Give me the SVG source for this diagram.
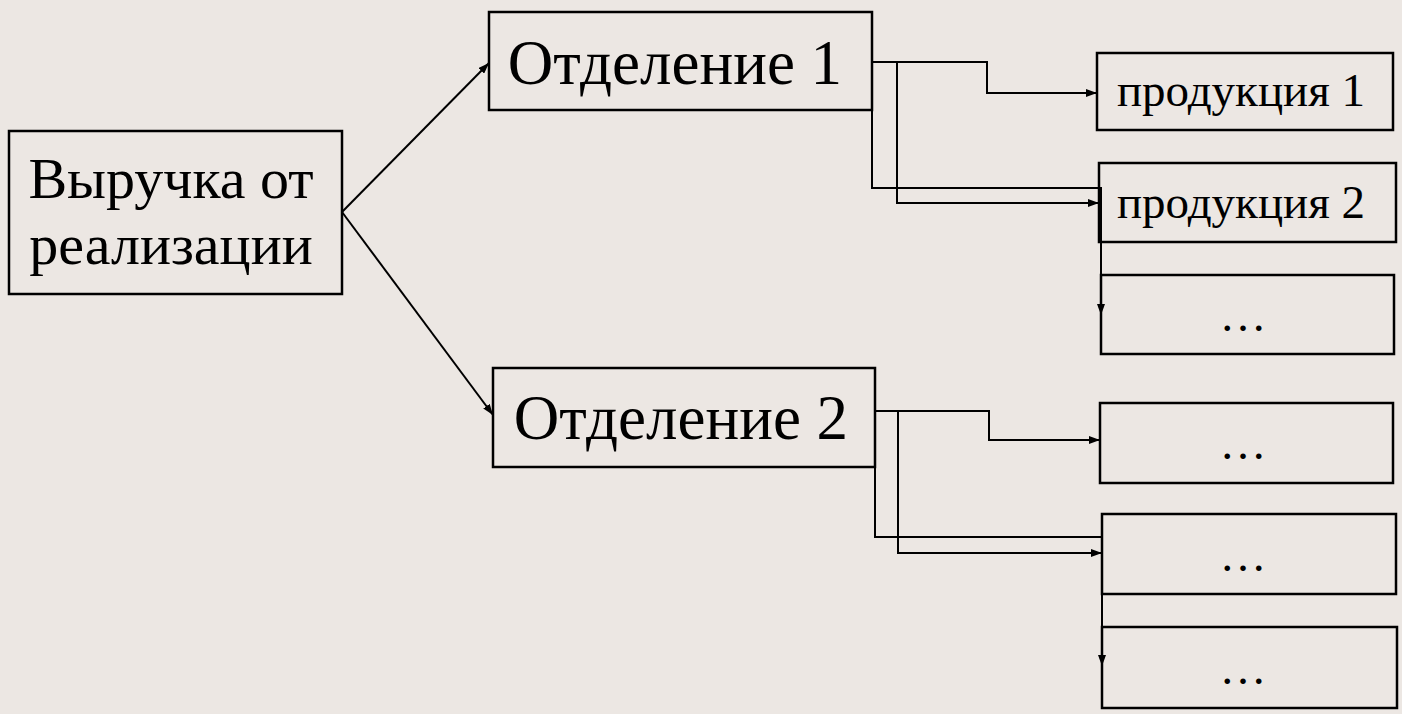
<svg xmlns="http://www.w3.org/2000/svg" width="1402" height="714" viewBox="0 0 1402 714">
<defs>
<marker id="ah" markerWidth="11" markerHeight="8" refX="11" refY="4" orient="auto" markerUnits="userSpaceOnUse">
<path d="M0,0 L11,4 L0,8 Z" fill="#000"/>
</marker>
<style>
.box{fill:none;stroke:#000;stroke-width:2.5}
.big{font-family:"Liberation Serif","Times New Roman",serif;font-size:63px;fill:#000;text-anchor:middle}
.rev{font-size:58px}
.sm{font-family:"Liberation Serif","Times New Roman",serif;font-size:47px;fill:#000;text-anchor:middle}
.c{fill:none;stroke:#000;stroke-width:2}
</style>
</defs>
<rect width="1402" height="714" fill="#ECE7E3"/>
<g id="connectors">
<path class="c" d="M342,212 L489,63" marker-end="url(#ah)"/>
<path class="c" d="M342,212 L493,415" marker-end="url(#ah)"/>
<path class="c" d="M872,62 H987 V93 H1097" marker-end="url(#ah)"/>
<path class="c" d="M872,62 V188 H1101 V315" marker-end="url(#ah)"/>
<path class="c" d="M872,62 H897 V203 H1099" marker-end="url(#ah)"/>
<path class="c" d="M875,411 H989 V440 H1100" marker-end="url(#ah)"/>
<path class="c" d="M875,411 V537 H1102 V666" marker-end="url(#ah)"/>
<path class="c" d="M875,411 H898 V553 H1102" marker-end="url(#ah)"/>
</g>
<g id="revenue">
<rect class="box" x="9" y="131" width="333" height="163"/>
<text class="big rev" x="171" y="198">Выручка от</text>
<text class="big rev" x="171" y="264">реализации</text>
</g>
<g id="div1">
<rect class="box" x="489" y="12" width="383" height="98"/>
<text class="big" x="675" y="84">Отделение 1</text>
</g>
<g id="div2">
<rect class="box" x="493" y="368" width="382" height="99"/>
<text class="big" x="681" y="439">Отделение 2</text>
</g>
<g id="prod1">
<rect class="box" x="1097" y="53" width="296" height="77"/>
<text class="sm" x="1241" y="106">продукция 1</text>
</g>
<g id="prod2">
<rect class="box" x="1099" y="163" width="297" height="79"/>
<text class="sm" x="1241" y="218">продукция 2</text>
</g>
<g id="etc1">
<rect class="box" x="1101" y="275" width="293" height="79"/>
<text class="sm" x="1243" y="331">…</text>
</g>
<g id="etc2">
<rect class="box" x="1100" y="403" width="293" height="80"/>
<text class="sm" x="1243" y="459">…</text>
</g>
<g id="etc3">
<rect class="box" x="1102" y="514" width="294" height="80"/>
<text class="sm" x="1243" y="571">…</text>
</g>
<g id="etc4">
<rect class="box" x="1102" y="627" width="295" height="81"/>
<text class="sm" x="1243" y="684">…</text>
</g>
</svg>
